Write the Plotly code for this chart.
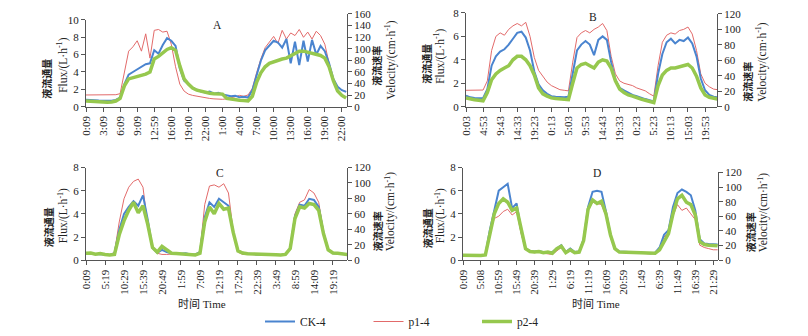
import plotly.graph_objects as go

W, H = 808, 336

# ---------------- data (values in L/h, sampled every 1/4 tick interval) ----------------
A_ticks = ["0:09", "3:09", "6:09", "9:09", "12:59", "16:00", "19:00", "22:00",
           "1:00", "4:00", "7:00", "10:00", "13:00", "16:00", "19:00", "22:00"]
A_ck = [0.80, 0.80, 0.75, 0.70, 0.68, 0.66, 0.68, 0.78, 1.05, 2.60, 3.70, 4.00, 4.30, 4.60, 4.90, 5.00,
        6.50, 6.10, 7.10, 7.90, 7.60, 7.00, 4.40, 3.00, 2.60, 2.20, 1.95, 1.75, 1.65, 1.75, 1.50, 1.60,
        1.40, 1.30, 1.20, 1.25, 1.10, 1.15, 1.05, 1.90, 3.70, 5.30, 6.50, 7.00, 7.60, 7.40, 6.80, 7.80,
        5.00, 7.50, 4.80, 7.60, 5.20, 7.70, 6.00, 7.00, 6.40, 5.00, 3.20, 2.30, 1.90, 1.70]
A_p1 = [1.35, 1.35, 1.30, 1.32, 1.30, 1.30, 1.35, 1.38, 1.50, 3.80, 6.40, 6.90, 7.60, 6.40, 8.40, 5.60,
        8.80, 8.90, 8.60, 8.70, 7.20, 4.60, 2.60, 1.80, 1.45, 1.30, 1.20, 1.10, 1.00, 0.95, 0.90, 0.85,
        0.85, 0.90, 1.00, 1.15, 1.30, 1.20, 1.35, 2.10, 3.90, 5.50, 6.80, 7.50, 8.10, 7.30, 8.80, 7.80,
        8.50, 8.20, 8.90, 8.00, 8.60, 7.80, 8.70, 8.20, 7.20, 5.00, 3.20, 2.30, 1.90, 1.75]
A_p2 = [0.65, 0.62, 0.58, 0.55, 0.50, 0.52, 0.55, 0.65, 0.95, 2.40, 3.20, 3.35, 3.45, 3.55, 3.75, 4.00,
        5.50, 5.80, 6.20, 6.60, 6.80, 6.50, 4.70, 3.20, 2.60, 2.15, 1.90, 1.75, 1.65, 1.55, 1.50, 1.48,
        1.45, 0.95, 0.85, 0.80, 0.75, 0.70, 0.65, 1.20, 2.80, 3.90, 4.60, 5.00, 5.20, 5.40, 5.50, 5.60,
        5.90, 6.10, 6.40, 6.40, 6.30, 6.20, 6.00, 5.90, 5.60, 4.60, 3.00, 1.80, 1.30, 1.00]

B_ticks = ["0:03", "4:53", "9:43", "14:33", "19:23", "0:13", "5:03", "9:53",
           "14:43", "19:33", "0:23", "5:23", "10:13", "15:03", "19:53"]
B_ck = [0.95, 0.80, 0.75, 0.75, 0.72, 1.50, 3.50, 4.30, 4.70, 4.90, 5.30, 5.80, 6.30, 6.40, 5.90, 4.80,
        3.00, 1.90, 1.40, 1.10, 0.90, 0.85, 0.80, 0.80, 0.85, 3.00, 4.80, 5.30, 5.60, 5.30, 4.40, 5.70,
        6.00, 5.70, 3.80, 2.30, 1.60, 1.40, 1.20, 1.00, 0.90, 0.75, 0.65, 0.55, 0.45, 2.80, 4.50, 5.50,
        5.80, 5.40, 5.70, 5.60, 5.90, 5.40, 4.30, 2.40, 1.40, 1.00, 0.85, 0.80]
B_p1 = [1.40, 1.42, 1.40, 1.45, 1.42, 2.20, 4.80, 6.00, 6.30, 6.10, 6.60, 6.90, 7.10, 6.90, 7.20, 6.00,
        4.20, 3.10, 2.60, 2.10, 1.80, 1.60, 1.45, 1.40, 1.35, 3.80, 5.90, 6.30, 6.50, 6.30, 6.60, 6.80,
        7.10, 6.50, 4.30, 2.80, 2.20, 2.00, 1.90, 1.80, 1.60, 1.50, 1.35, 1.10, 0.90, 3.50, 5.50, 6.10,
        6.30, 6.20, 6.50, 6.60, 6.80, 6.20, 4.80, 2.80, 2.00, 1.70, 1.50, 1.45]
B_p2 = [0.75, 0.65, 0.60, 0.55, 0.50, 1.20, 2.30, 2.80, 3.10, 3.30, 3.50, 4.00, 4.30, 4.30, 4.00, 3.50,
        2.70, 1.60, 1.10, 0.90, 0.75, 0.70, 0.65, 0.60, 0.60, 2.00, 3.30, 3.60, 3.70, 3.50, 3.30, 3.80,
        4.00, 3.90, 3.30, 2.20, 1.50, 1.20, 1.00, 0.90, 0.75, 0.65, 0.55, 0.45, 0.35, 1.80, 2.70, 3.10,
        3.30, 3.30, 3.40, 3.50, 3.60, 3.30, 2.60, 1.60, 1.00, 0.80, 0.70, 0.65]

C_ticks = ["0:09", "5:19", "10:29", "15:39", "20:49", "1:59", "7:09",
           "12:19", "17:29", "22:39", "3:49", "8:59", "14:09", "19:19"]
C_ck = [0.55, 0.55, 0.50, 0.55, 0.50, 0.45, 0.60, 2.60, 4.00, 4.60, 5.10, 4.70, 5.60, 3.50, 1.05, 0.65,
        0.90, 0.70, 0.60, 0.60, 0.55, 0.60, 0.50, 0.50, 0.70, 3.70, 5.00, 4.60, 5.30, 5.00, 4.70, 2.40,
        0.80, 0.60, 0.55, 0.55, 0.50, 0.50, 0.48, 0.50, 0.45, 0.45, 0.50, 1.00, 3.80, 4.80, 4.70, 5.30,
        5.20, 4.60, 2.40, 0.90, 0.60, 0.60, 0.55, 0.50]
C_p1 = [0.55, 0.50, 0.50, 0.52, 0.45, 0.45, 0.70, 3.30, 5.30, 6.30, 6.80, 7.00, 6.30, 3.00, 1.00, 0.60,
        0.50, 0.50, 0.55, 0.55, 0.50, 0.50, 0.45, 0.45, 0.80, 4.80, 6.40, 6.50, 6.30, 6.60, 5.80, 2.50,
        0.70, 0.50, 0.50, 0.48, 0.45, 0.45, 0.40, 0.42, 0.40, 0.40, 0.45, 1.00, 4.00, 5.00, 5.20, 6.10,
        5.80, 5.00, 2.50, 0.90, 0.60, 0.55, 0.50, 0.50]
C_p2 = [0.60, 0.62, 0.52, 0.58, 0.50, 0.45, 0.50, 2.20, 3.40, 4.30, 5.00, 4.10, 4.70, 3.10, 1.10, 0.70,
        1.20, 0.90, 0.60, 0.58, 0.55, 0.55, 0.50, 0.45, 0.60, 3.30, 4.60, 4.00, 4.90, 4.40, 4.50, 2.40,
        0.80, 0.62, 0.55, 0.55, 0.52, 0.55, 0.50, 0.52, 0.48, 0.45, 0.50, 1.00, 3.60, 4.60, 4.50, 4.90,
        4.80, 4.30, 2.30, 0.90, 0.62, 0.60, 0.55, 0.50]

D_ticks = ["0:09", "5:08", "10:59", "15:49", "20:39", "1:29", "6:19", "11:19",
           "16:09", "20:59", "1:49", "6:39", "11:49", "16:39", "21:29"]
D_ck = [0.45, 0.40, 0.45, 0.40, 0.42, 0.45, 2.60, 4.30, 6.00, 6.30, 6.60, 4.50, 4.90, 2.60, 1.00, 0.80,
        0.75, 0.80, 0.70, 0.70, 0.70, 1.00, 1.30, 0.70, 1.00, 0.70, 0.75, 1.80, 4.60, 5.90, 6.00, 5.90,
        4.20, 2.20, 1.00, 0.75, 0.70, 0.70, 0.68, 0.65, 0.65, 0.62, 0.60, 0.65, 1.10, 2.20, 2.60, 4.60,
        5.80, 6.10, 5.90, 5.60, 4.30, 1.80, 1.45, 1.40, 1.40, 1.35]
D_p1 = [0.40, 0.40, 0.42, 0.45, 0.40, 0.45, 2.30, 3.60, 3.80, 4.20, 4.40, 3.90, 4.20, 2.30, 0.90, 0.70,
        0.65, 0.70, 0.60, 0.55, 0.50, 0.80, 1.10, 0.60, 0.80, 0.60, 0.65, 1.60, 4.30, 5.00, 4.90, 4.80,
        3.80, 2.00, 0.90, 0.70, 0.65, 0.60, 0.62, 0.60, 0.58, 0.55, 0.55, 0.60, 1.00, 2.00, 2.40, 3.80,
        4.80, 4.30, 4.50, 4.00, 3.50, 1.30, 1.10, 1.00, 0.90, 0.90]
D_p2 = [0.42, 0.40, 0.45, 0.40, 0.40, 0.45, 2.40, 4.00, 4.90, 5.30, 5.00, 4.30, 4.50, 2.60, 1.00, 0.75,
        0.70, 0.75, 0.65, 0.70, 0.60, 1.00, 1.20, 0.65, 0.90, 0.65, 0.70, 1.70, 4.40, 5.20, 4.90, 5.10,
        4.00, 2.20, 1.00, 0.70, 0.68, 0.65, 0.66, 0.62, 0.60, 0.58, 0.56, 0.60, 0.90, 1.60, 2.30, 4.00,
        5.30, 5.60, 5.00, 4.80, 3.90, 1.60, 1.35, 1.30, 1.30, 1.25]

STEP = 0.25  # sample spacing, in tick intervals

# ---------------- styling ----------------
C_CK, C_P1, C_P2 = "#4a84cf", "#e26a6a", "#96c84e"
SERIF = "Liberation Serif, Noto Sans CJK SC"
CJK = "Noto Sans CJK SC"
INK = "#222222"
LINE = "#555555"

def fx(px):
    return px / W

def fy(py):
    return 1 - py / H

panels = [
    dict(ticks=A_ticks, ck=A_ck, p1=A_p1, p2=A_p2, x0=86, x1=347, xr=15.3,
         ybot=107, ytop=20, ymax=10, y2top=14, y2max=160),
    dict(ticks=B_ticks, ck=B_ck, p1=B_p1, p2=B_p2, x0=466, x1=717, xr=14.7,
         ybot=107, ytop=13, ymax=8, y2top=14, y2max=120),
    dict(ticks=C_ticks, ck=C_ck, p1=C_p1, p2=C_p2, x0=86, x1=347, xr=13.74,
         ybot=261, ytop=168, ymax=8, y2top=168, y2max=120),
    dict(ticks=D_ticks, ck=D_ck, p1=D_p1, p2=D_p2, x0=463, x1=718, xr=14.27,
         ybot=261, ytop=168, ymax=8, y2top=173, y2max=120),
]

fig = go.Figure()
layout = {}
for i, p in enumerate(panels):
    xn = "" if i == 0 else str(i + 1)
    yl = "" if i == 0 else str(2 * i + 1)
    yr = str(2 * i + 2)
    xref, ylref, yrref = "x" + xn, "y" + yl, "y" + yr
    t = [k * STEP for k in range(len(p["ck"]))]
    first = (i == 0)
    fig.add_trace(go.Scatter(x=t, y=p["p1"], mode="lines", name="p1-4", legendrank=2,
                             line=dict(color=C_P1, width=1), xaxis=xref, yaxis=ylref,
                             showlegend=first))
    fig.add_trace(go.Scatter(x=t, y=p["ck"], mode="lines", name="CK-4", legendrank=1,
                             line=dict(color=C_CK, width=2), xaxis=xref, yaxis=ylref,
                             showlegend=first))
    fig.add_trace(go.Scatter(x=t, y=p["p2"], mode="lines", name="p2-4", legendrank=3,
                             line=dict(color=C_P2, width=3.5), xaxis=xref, yaxis=ylref,
                             showlegend=first))
    fig.add_trace(go.Scatter(x=[None], y=[None], mode="lines", xaxis=xref, yaxis=yrref,
                             showlegend=False, hoverinfo="skip"))
    common = dict(showgrid=False, zeroline=False, showline=True, linecolor=LINE, linewidth=1,
                  ticks="outside", ticklen=4, tickcolor=LINE, automargin=False,
                  tickfont=dict(family=SERIF, size=11, color=INK))
    layout["xaxis" + xn] = dict(common, domain=[fx(p["x0"]), fx(p["x1"])], anchor=ylref,
                                range=[0, p["xr"]], tickmode="array",
                                tickvals=list(range(len(p["ticks"]))), ticktext=p["ticks"],
                                tickangle=-90)
    layout["yaxis" + yl] = dict(common, domain=[fy(p["ybot"]), fy(p["ytop"])], anchor=xref,
                                range=[0, p["ymax"]], dtick=2, tick0=0)
    layout["yaxis" + yr] = dict(common, domain=[fy(p["ybot"]), fy(p["y2top"])], anchor=xref,
                                side="right", range=[0, p["y2max"]], dtick=20, tick0=0)

fig.update_layout(**layout)

ann = []
def text(x, y, s, size, family=SERIF, angle=0, bold=False):
    ann.append(dict(x=fx(x), y=fy(y), xref="paper", yref="paper", text=("<b>%s</b>" % s) if bold else s,
                    showarrow=False, textangle=angle, xanchor="center", yanchor="middle",
                    font=dict(family=family, size=size, color=INK)))

# panel letters
for lab, x, y in [("A", 217, 25), ("B", 593, 17), ("C", 220, 174), ("D", 597, 174)]:
    text(x, y, lab, 11.5)

# axis titles
FLUX = "Flux/(L·h<sup>-1</sup>)"
VEL = "Velocity/(cm·h<sup>-1</sup>)"
titles = [
    ((47, 79), (63, 66), (377, 66), (391, 60)),
    ((427, 64), (440, 57), (748, 82), (762, 62)),
    ((48, 228), (63, 217), (377, 232), (390, 212)),
    ((427, 229), (440, 217), (750, 233), (763, 213)),
]
for cl, fl, cr, vr in titles:
    text(cl[0], cl[1], "液流通量", 10, family=CJK, angle=-90, bold=True)
    text(fl[0], fl[1], FLUX, 11.5, angle=-90)
    text(cr[0], cr[1], "液流速率", 10, family=CJK, angle=-90, bold=True)
    text(vr[0], vr[1], VEL, 11.5, angle=-90)

text(202, 305, "时间 Time", 11)
text(596, 305, "时间 Time", 11)

fig.update_layout(
    width=W, height=H,
    margin=dict(l=0, r=0, t=0, b=0),
    paper_bgcolor="white", plot_bgcolor="rgba(0,0,0,0)",
    hovermode=False,
    annotations=ann,
    showlegend=True,
    legend=dict(orientation="h", x=fx(260), y=fy(322), xanchor="left", yanchor="middle",
                font=dict(family=SERIF, size=11.5, color=INK), bgcolor="rgba(0,0,0,0)",
                entrywidth=63.5, entrywidthmode="pixels", traceorder="normal"),
)

fig.write_html("out.html",
               config={"displayModeBar": False},
               post_script="document.body.style.margin='0';document.body.style.overflow='hidden';")
